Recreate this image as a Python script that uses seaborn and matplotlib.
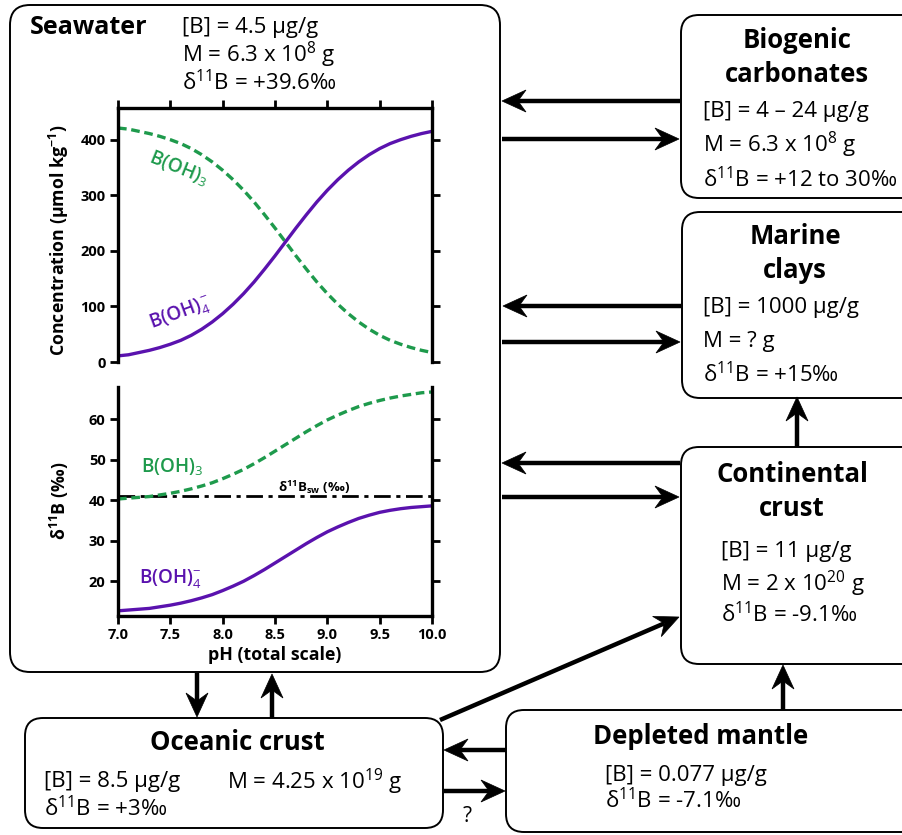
import numpy as np
import pandas as pd
import matplotlib
matplotlib.use("Agg")
import matplotlib.pyplot as plt
from matplotlib.patches import FancyBboxPatch, Polygon
import seaborn as sns

# values
ph = [7.0, 7.1, 7.2, 7.3, 7.4, 7.5, 7.6, 7.7, 7.8, 7.9, 8.0, 8.1, 8.2, 8.3, 8.4, 8.5,
      8.6, 8.7, 8.8, 8.9, 9.0, 9.1, 9.2, 9.3, 9.4, 9.5, 9.6, 9.7, 9.8, 9.9, 10.0]
boric_conc = [421, 419, 415, 411, 406, 400, 393, 384, 373, 360, 345, 328, 309, 288, 265, 241,
              216, 191, 167, 144, 123, 104, 87, 72, 59, 48, 39, 32, 26, 21, 17]
borate_conc = [11, 13, 17, 21, 26, 32, 39, 48, 59, 72, 87, 104, 123, 144, 167, 191,
               216, 241, 265, 288, 309, 328, 345, 360, 373, 384, 393, 400, 406, 411, 415]
boric_d11b = [40.3, 40.5, 40.7, 40.9, 41.3, 41.7, 42.2, 42.8, 43.5, 44.3, 45.3, 46.4, 47.6, 49.0, 50.5, 52.1,
              53.7, 55.3, 56.9, 58.4, 59.8, 61.0, 62.1, 63.1, 63.9, 64.6, 65.2, 65.7, 66.1, 66.5, 66.7]
borate_d11b = [12.7, 12.9, 13.1, 13.3, 13.7, 14.1, 14.6, 15.2, 15.9, 16.7, 17.7, 18.8, 20.0, 21.4, 22.9, 24.5,
               26.1, 27.7, 29.3, 30.8, 32.2, 33.4, 34.5, 35.5, 36.3, 37.0, 37.5, 37.9, 38.2, 38.4, 38.6]
d11b_sw = 41.0
ph_ticks = [7.0, 7.5, 8.0, 8.5, 9.0, 9.5, 10.0]
conc_ticks = [0, 100, 200, 300, 400]
d11b_ticks = [20, 30, 40, 50, 60]

sns.set_style("ticks")
plt.rcParams["font.family"] = ["Open Sans", "DejaVu Sans"]
plt.rcParams["mathtext.fontset"] = "custom"
plt.rcParams["mathtext.rm"] = "Open Sans"
plt.rcParams["mathtext.it"] = "Open Sans:italic"
plt.rcParams["mathtext.bf"] = "Open Sans:bold"
for k in ["text.color", "axes.labelcolor", "xtick.color", "ytick.color", "axes.edgecolor"]:
    plt.rcParams[k] = "black"

GREEN = "#1e9a4c"
PURPLE = "#5a12ae"

fig = plt.figure(figsize=(9.02, 8.35), dpi=100)

# background axes in pixel units for the boxes and arrows
bg = fig.add_axes([0, 0, 1, 1])
bg.set_xlim(0, 902)
bg.set_ylim(835, 0)
bg.axis("off")


def box(x0, y0, x1, y1, r=18):
    bg.add_patch(FancyBboxPatch((x0, y0), x1 - x0, y1 - y0,
                                boxstyle=f"round,pad=0,rounding_size={r}",
                                fc="white", ec="black", lw=1.4))


def arrow(x0, y0, x1, y1, L=24, W=11, notch=8):
    d = np.array([x1 - x0, y1 - y0], dtype=float)
    u = d / np.hypot(*d)
    p = np.array([-u[1], u[0]])
    tip = np.array([x1, y1], dtype=float)
    back = tip - L * u
    nt = tip - (L - notch) * u
    bg.plot([x0, nt[0]], [y0, nt[1]], color="black", lw=3.2, solid_capstyle="butt")
    bg.add_patch(Polygon([tip, back + W * p, nt, back - W * p], closed=True,
                         fc="black", ec="black", lw=0.5))


# boxes
box(10, 5, 500, 672, r=20)
box(681, 15, 940, 198)
box(682, 212, 940, 398)
box(681, 447, 940, 664)
box(25, 718, 443, 828)
box(506, 710, 940, 832)

# arrows
arrow(680, 101, 502, 101)
arrow(502, 139, 679, 139)
arrow(681, 306, 503, 306)
arrow(502, 342, 680, 342)
arrow(680, 463, 502, 463)
arrow(502, 497, 679, 497)
arrow(797, 447, 797, 397)
arrow(197, 673, 197, 717)
arrow(272, 718, 272, 674)
arrow(440, 720, 679, 617)
arrow(783, 710, 783, 665)
arrow(506, 750, 444, 750)
arrow(444, 791, 505, 791)
bg.text(467, 816, "?", fontsize=15, ha="center", va="center")

# box texts
TS = 18.5
BS = 16
bg.text(89, 28, "Seawater", fontsize=18, fontweight="bold", ha="center", va="center")
bg.text(182, 27, "[B] = 4.5 μg/g", fontsize=BS, va="center")
bg.text(182, 55, "M = 6.3 x 10$^8$ g", fontsize=BS, va="center")
bg.text(182, 83, "δ$^{11}$B = +39.6‰", fontsize=BS, va="center")

bg.text(797, 40, "Biogenic", fontsize=TS, fontweight="bold", ha="center", va="center")
bg.text(797, 75, "carbonates", fontsize=TS, fontweight="bold", ha="center", va="center")
bg.text(703, 111, "[B] = 4 – 24 μg/g", fontsize=BS, va="center")
bg.text(703, 145, "M = 6.3 x 10$^8$ g", fontsize=BS, va="center")
bg.text(703, 180, "δ$^{11}$B = +12 to 30‰", fontsize=BS, va="center")

bg.text(795, 236, "Marine", fontsize=TS, fontweight="bold", ha="center", va="center")
bg.text(795, 271, "clays", fontsize=TS, fontweight="bold", ha="center", va="center")
bg.text(703, 307, "[B] = 1000 μg/g", fontsize=BS, va="center")
bg.text(703, 342, "M = ? g", fontsize=BS, va="center")
bg.text(703, 375, "δ$^{11}$B = +15‰", fontsize=BS, va="center")

bg.text(792, 474, "Continental", fontsize=TS, fontweight="bold", ha="center", va="center")
bg.text(792, 509, "crust", fontsize=TS, fontweight="bold", ha="center", va="center")
bg.text(721, 552, "[B] = 11 μg/g", fontsize=BS, va="center")
bg.text(721, 584, "M = 2 x 10$^{20}$ g", fontsize=BS, va="center")
bg.text(721, 615, "δ$^{11}$B = -9.1‰", fontsize=BS, va="center")

bg.text(237, 743, "Oceanic crust", fontsize=TS, fontweight="bold", ha="center", va="center")
bg.text(44, 782, "[B] = 8.5 μg/g", fontsize=BS, va="center")
bg.text(227, 782, "M = 4.25 x 10$^{19}$ g", fontsize=BS, va="center")
bg.text(44, 809, "δ$^{11}$B = +3‰", fontsize=BS, va="center")

bg.text(701, 737, "Depleted mantle", fontsize=TS, fontweight="bold", ha="center", va="center")
bg.text(605, 776, "[B] = 0.077 μg/g", fontsize=BS, va="center")
bg.text(605, 801, "δ$^{11}$B = -7.1‰", fontsize=BS, va="center")

# concentration panel
conc = pd.DataFrame({"pH": ph, "boric": boric_conc, "borate": borate_conc})
ax1 = fig.add_axes([118 / 902, 1 - 362 / 835, 314 / 902, 254 / 835])
ax1.set_facecolor("none")
sns.lineplot(data=conc, x="pH", y="boric", ax=ax1, color=GREEN, lw=2.4,
             linestyle=(0, (2.6, 1.4)))
sns.lineplot(data=conc, x="pH", y="borate", ax=ax1, color=PURPLE, lw=2.4)
ax1.set_xlim(7, 10)
ax1.set_ylim(0, 457)
ax1.spines["bottom"].set_visible(False)
ax1.xaxis.set_ticks_position("top")
ax1.set_xticks(ph_ticks)
ax1.tick_params(axis="x", labeltop=False, labelbottom=False)
ax1.set_yticks(conc_ticks, [str(v) for v in conc_ticks], fontweight="bold", fontsize=10.5)
ax1.tick_params(axis="y", right=True, labelright=False)
ax1.set_xlabel("")
ax1.set_ylabel(r"Concentration (μmol kg$^{\mathbf{-1}}$)", fontweight="bold", fontsize=12.8)
ax1.yaxis.set_label_coords(-0.15, 0.48)
ax1.text(7.58, 350, "B(OH)$_3$", color=GREEN, fontsize=13.5, fontweight="semibold",
         rotation=-22, ha="center", va="center")
ax1.text(7.6, 87, "B(OH)$_4^-$", color=PURPLE, fontsize=13.5, fontweight="semibold",
         rotation=20, ha="center", va="center")

# d11B panel
iso = pd.DataFrame({"pH": ph, "boric": boric_d11b, "borate": borate_d11b})
ax2 = fig.add_axes([118 / 902, 1 - 615.7 / 835, 314 / 902, 229 / 835])
ax2.set_facecolor("none")
sns.lineplot(data=iso, x="pH", y="boric", ax=ax2, color=GREEN, lw=2.4,
             linestyle=(0, (2.6, 1.4)))
sns.lineplot(data=iso, x="pH", y="borate", ax=ax2, color=PURPLE, lw=2.4)
ax2.axhline(d11b_sw, color="black", lw=2, linestyle=(0, (6, 2, 1.5, 2)), zorder=1)
ax2.set_xlim(7, 10)
ax2.set_ylim(11.5, 68)
ax2.spines["top"].set_visible(False)
ax2.set_xticks(ph_ticks, [f"{v:.1f}" for v in ph_ticks], fontweight="bold", fontsize=10.5)
ax2.set_yticks(d11b_ticks, [str(v) for v in d11b_ticks], fontweight="bold", fontsize=10.5)
ax2.tick_params(axis="y", right=True, labelright=False)
ax2.set_xlabel("pH (total scale)", fontweight="bold", fontsize=12.8, labelpad=3)
ax2.set_ylabel(r"δ$^{\mathbf{11}}$B (‰)", fontweight="bold", fontsize=12.8)
ax2.yaxis.set_label_coords(-0.15, 0.5)
ax2.text(7.52, 48.2, "B(OH)$_3$", color=GREEN, fontsize=13.5, fontweight="semibold",
         ha="center", va="center")
ax2.text(7.5, 20.8, "B(OH)$_4^{-}$", color=PURPLE, fontsize=13.5, fontweight="semibold",
         ha="center", va="center")
ax2.text(8.87, 43.2, r"δ$^{\mathbf{11}}$B$_{\mathbf{sw}}$ (‰)", fontsize=9.5,
         fontweight="bold", ha="center", va="center")

for ax in (ax1, ax2):
    for s in ax.spines.values():
        s.set_linewidth(2.4)
    ax.tick_params(direction="out", length=6, width=2, colors="black", pad=3)

fig.savefig("out.png", dpi=100)
